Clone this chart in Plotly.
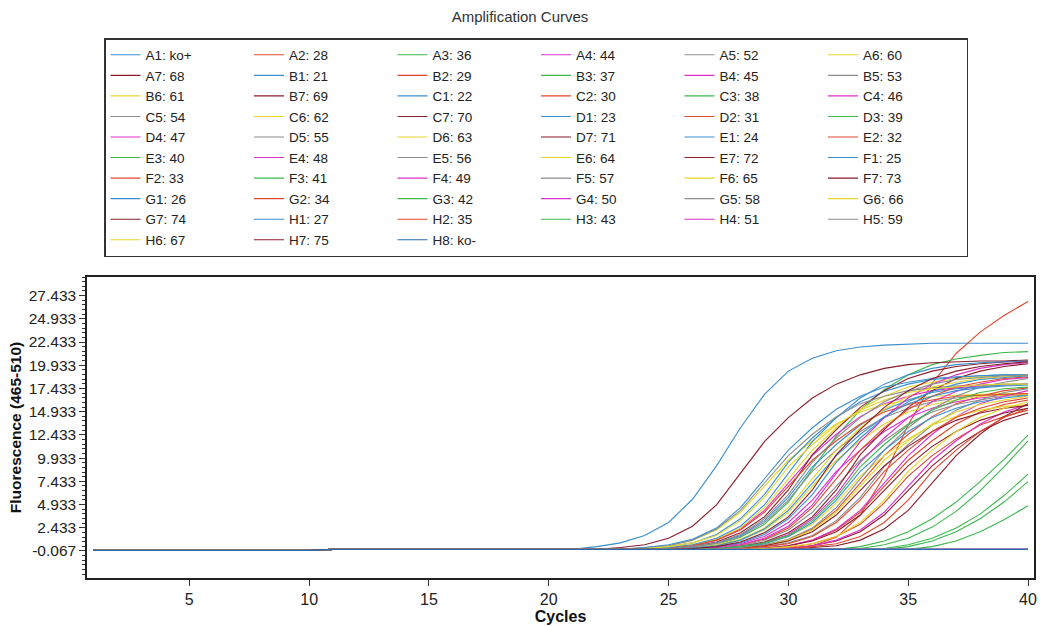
import plotly.graph_objects as go

# ---------------- data ----------------
cycles = list(range(1, 41))

A1 = [0,0,0,0,0,0,0,0,0,0, 0.1,0.1,0.1,0.1,0.1,0.1,0.1,0.1,0.1,0.1,0.1,
      0.4,0.8,1.6,3.0,5.5,9.1,13.2,16.8,19.3,20.7,21.5,21.9,22.1,22.2,22.3,22.3,22.3,22.3,22.3]
A2 = [0,0,0,0,0,0,0,0,0,0, 0.1,0.1,0.1,0.1,0.1,0.1,0.1,0.1,0.1,0.1,0.1,0.1,0.1,0.1,0.1,0.1,0.1,0.1,0.1,
      0.2,0.5,1.4,3.8,8.0,13.5,18.0,21.2,23.5,25.3,26.8]
A3 = [0,0,0,0,0,0,0,0,0,0, 0.1,0.1,0.1,0.1,0.1,0.1,0.1,0.1,0.1,0.1,0.1,0.1,0.1,0.1,0.1,
      0.3,0.6,1.4,2.8,5.2,8.7,12.3,15.1,17.3,18.9,20.0,20.6,21.0,21.3,21.4]
A4 = [0,0,0,0,0,0,0,0,0,0, 0.1,0.1,0.1,0.1,0.1,0.1,0.1,0.1,0.1,0.1,0.1,0.1,0.1,0.1,
      0.3,0.5,1.1,2.3,4.3,7.3,10.2,12.5,14.4,15.8,16.6,17.2,17.5,17.7,17.8,17.9]
A5 = [0,0,0,0,0,0,0,0,0,0, 0.1,0.1,0.1,0.1,0.1,0.1,0.1,0.1,0.1,0.1,0.1,0.1,0.1,0.1,
      0.2,0.4,0.7,1.5,3.0,5.4,8.5,10.8,12.8,14.3,15.3,16.0,16.4,16.7,16.8,16.9]
A6 = [0,0,0,0,0,0,0,0,0,0, 0.1,0.1,0.1,0.1,0.1,0.1,0.1,0.1,0.1,0.1,0.1,0.1,0.1,
      0.2,0.5,1.1,2.2,4.1,6.9,9.7,11.8,13.6,14.9,15.7,16.2,16.6,16.7,16.8,16.9,16.9]
A7 = [0,0,0,0,0,0,0,0,0,0, 0.1,0.1,0.1,0.1,0.1,0.1,0.1,0.1,0.1,0.1,0.1,
      0.1,0.3,0.6,1.3,2.6,4.9,8.3,11.7,14.3,16.4,17.9,18.9,19.6,20.0,20.2,20.3,20.4,20.4,20.5]

B1 = [0,0,0,0,0,0,0,0,0,0, 0.1,0.1,0.1,0.1,0.1,0.1,0.1,0.1,0.1,0.1,0.1,0.1,0.1,
      0.2,0.4,0.8,1.7,3.4,6.0,9.5,12.1,14.3,16.0,17.1,17.9,18.4,18.6,18.8,18.9,18.9]
B2 = [0,0,0,0,0,0,0,0,0,0, 0.1,0.1,0.1,0.1,0.1,0.1,0.1,0.1,0.1,0.1,0.1,0.1,0.1,0.1,0.1,0.1,0.1,
      0.3,0.5,1.1,2.3,4.3,7.3,10.2,12.5,14.4,15.8,16.6,17.2,17.5]
B3 = [0,0,0,0,0,0,0,0,0,0, 0.1,0.1,0.1,0.1,0.1,0.1,0.1,0.1,0.1,0.1,0.1,0.1,0.1,0.1,0.1,0.1,0.1,0.1,0.1,0.1,0.1,0.1,
      0.4,1.0,2.0,3.4,5.2,7.4,9.8,12.4]
B4 = [0,0,0,0,0,0,0,0,0,0, 0.1,0.1,0.1,0.1,0.1,0.1,0.1,0.1,0.1,0.1,0.1,0.1,0.1,0.1,0.1,
      0.2,0.4,0.7,1.5,3.0,5.4,8.5,10.8,12.8,14.3,15.3,16.0,16.4,16.7,16.8]
B5 = [0,0,0,0,0,0,0,0,0,0, 0.1,0.1,0.1,0.1,0.1,0.1,0.1,0.1,0.1,0.1,0.1,0.1,0.1,0.1,0.1,0.1,
      0.2,0.5,1.1,2.2,4.1,6.9,9.7,11.8,13.6,14.9,15.7,16.2,16.6,16.7]
B6 = [0,0,0,0,0,0,0,0,0,0, 0.1,0.1,0.1,0.1,0.1,0.1,0.1,0.1,0.1,0.1,0.1,0.1,0.1,0.1,
      0.3,0.6,1.2,2.4,4.6,7.7,10.8,13.2,15.2,16.6,17.6,18.1,18.5,18.7,18.8,18.9]
B7 = [0,0,0,0,0,0,0,0,0,0, 0.1,0.1,0.1,0.1,0.1,0.1,0.1,0.1,0.1,0.1,0.1,0.1,0.1,0.1,
      0.2,0.4,0.9,1.9,3.6,6.5,10.3,13.0,15.4,17.2,18.5,19.3,19.8,20.1,20.3,20.4]

C1 = [0,0,0,0,0,0,0,0,0,0, 0.1,0.1,0.1,0.1,0.1,0.1,0.1,0.1,0.1,0.1,0.1,0.1,0.1,0.1,
      0.3,0.6,1.3,2.6,4.9,8.3,11.7,14.3,16.4,17.9,18.9,19.6,20.0,20.2,20.3,20.4]
C2 = [0,0,0,0,0,0,0,0,0,0, 0.1,0.1,0.1,0.1,0.1,0.1,0.1,0.1,0.1,0.1,0.1,0.1,0.1,0.1,0.1,0.1,0.1,0.1,
      0.2,0.5,1.1,2.2,4.1,6.9,9.7,11.8,13.6,14.9,15.7,16.2]
C3 = [0,0,0,0,0,0,0,0,0,0, 0.1,0.1,0.1,0.1,0.1,0.1,0.1,0.1,0.1,0.1,0.1,0.1,0.1,0.1,0.1,0.1,0.1,0.1,0.1,0.1,0.1,0.1,
      0.2,0.6,1.3,2.5,4.2,6.4,9.0,11.8]
C4 = [0,0,0,0,0,0,0,0,0,0, 0.1,0.1,0.1,0.1,0.1,0.1,0.1,0.1,0.1,0.1,0.1,0.1,0.1,0.1,0.1,0.1,
      0.2,0.4,0.8,1.7,3.4,6.0,9.5,12.1,14.3,16.0,17.1,17.9,18.4,18.6]
C5 = [0,0,0,0,0,0,0,0,0,0, 0.1,0.1,0.1,0.1,0.1,0.1,0.1,0.1,0.1,0.1,0.1,0.1,0.1,
      0.3,0.5,1.1,2.3,4.3,7.3,10.2,12.5,14.4,15.8,16.6,17.2,17.5,17.7,17.8,17.9,17.9]
C6 = [0,0,0,0,0,0,0,0,0,0, 0.1,0.1,0.1,0.1,0.1,0.1,0.1,0.1,0.1,0.1,0.1,0.1,0.1,0.1,0.1,
      0.2,0.5,1.1,2.2,4.1,6.9,9.7,11.8,13.6,14.9,15.7,16.2,16.6,16.7,16.8]
C7 = [0,0,0,0,0,0,0,0,0,0, 0.1,0.1,0.1,0.1,0.1,0.1,0.1,0.1,0.1,0.1,0.1,0.1,0.1,0.1,0.1,0.1,
      0.2,0.4,0.9,1.9,3.6,6.5,10.3,13.0,15.4,17.2,18.5,19.3,19.8,20.1]

D1 = [0,0,0,0,0,0,0,0,0,0, 0.1,0.1,0.1,0.1,0.1,0.1,0.1,0.1,0.1,0.1,0.1,0.1,0.1,0.1,
      0.2,0.4,0.8,1.6,3.2,5.7,9.0,11.4,13.5,15.1,16.2,17.0,17.4,17.6,17.8,17.9]
D2 = [0,0,0,0,0,0,0,0,0,0, 0.1,0.1,0.1,0.1,0.1,0.1,0.1,0.1,0.1,0.1,0.1,0.1,0.1,0.1,0.1,0.1,
      0.3,0.6,1.2,2.4,4.6,7.7,10.8,13.2,15.2,16.6,17.6,18.1,18.5,18.7]
D3 = [0,0,0,0,0,0,0,0,0,0, 0.1,0.1,0.1,0.1,0.1,0.1,0.1,0.1,0.1,0.1,0.1,0.1,0.1,0.1,0.1,0.1,0.1,0.1,0.1,0.1,0.1,0.1,0.1,
      0.2,0.6,1.3,2.4,3.9,5.9,8.2]
D4 = [0,0,0,0,0,0,0,0,0,0, 0.1,0.1,0.1,0.1,0.1,0.1,0.1,0.1,0.1,0.1,0.1,0.1,0.1,0.1,0.1,0.1,0.1,0.1,
      0.3,0.5,1.1,2.3,4.3,7.3,10.2,12.5,14.4,15.8,16.6,17.2]
D5 = [0,0,0,0,0,0,0,0,0,0, 0.1,0.1,0.1,0.1,0.1,0.1,0.1,0.1,0.1,0.1,0.1,0.1,0.1,0.1,0.1,0.1,0.1,
      0.2,0.4,0.8,1.6,3.2,5.7,9.0,11.4,13.5,15.1,16.2,17.0,17.4]
D6 = [0,0,0,0,0,0,0,0,0,0, 0.1,0.1,0.1,0.1,0.1,0.1,0.1,0.1,0.1,0.1,0.1,0.1,0.1,0.1,0.1,0.1,
      0.2,0.3,0.7,1.5,2.8,5.1,8.0,10.2,12.0,13.5,14.4,15.1,15.5,15.7]
D7 = [0,0,0,0,0,0,0,0,0,0, 0.1,0.1,0.1,0.1,0.1,0.1,0.1,0.1,0.1,0.1,0.1,0.1,0.1,0.1,0.1,0.1,0.1,0.1,0.1,
      0.2,0.5,1.0,2.0,3.8,6.5,9.1,11.2,12.8,14.0,14.8]

E1 = [0,0,0,0,0,0,0,0,0,0, 0.1,0.1,0.1,0.1,0.1,0.1,0.1,0.1,0.1,0.1,0.1,0.1,0.1,
      0.3,0.6,1.2,2.4,4.6,7.7,10.8,13.2,15.2,16.6,17.6,18.1,18.5,18.7,18.8,18.9,18.9]
E2 = [0,0,0,0,0,0,0,0,0,0, 0.1,0.1,0.1,0.1,0.1,0.1,0.1,0.1,0.1,0.1,0.1,0.1,0.1,0.1,0.1,0.1,0.1,0.1,
      0.2,0.3,0.7,1.5,2.8,5.1,8.0,10.2,12.0,13.5,14.4,15.1]
E3 = [0,0,0,0,0,0,0,0,0,0, 0.1,0.1,0.1,0.1,0.1,0.1,0.1,0.1,0.1,0.1,0.1,0.1,0.1,0.1,0.1,0.1,0.1,0.1,0.1,0.1,0.1,0.1,0.1,0.1,
      0.4,1.0,2.0,3.4,5.2,7.4]
E4 = [0,0,0,0,0,0,0,0,0,0, 0.1,0.1,0.1,0.1,0.1,0.1,0.1,0.1,0.1,0.1,0.1,0.1,0.1,0.1,0.1,0.1,0.1,0.1,0.1,
      0.2,0.5,1.1,2.2,4.1,6.9,9.7,11.8,13.6,14.9,15.7]
E5 = [0,0,0,0,0,0,0,0,0,0, 0.1,0.1,0.1,0.1,0.1,0.1,0.1,0.1,0.1,0.1,0.1,0.1,0.1,0.1,0.1,0.1,0.1,0.1,0.1,0.1,
      0.1,0.1,0.1,0.1,0.1,0.1,0.1,0.1,0.1,0.1]
E6 = [0,0,0,0,0,0,0,0,0,0, 0.1,0.1,0.1,0.1,0.1,0.1,0.1,0.1,0.1,0.1,0.1,0.1,0.1,0.1,0.1,
      0.3,0.6,1.2,2.4,4.6,7.7,10.8,13.2,15.2,16.6,17.6,18.1,18.5,18.7,18.8]
E7 = [0,0,0,0,0,0,0,0,0,0, 0.1,0.1,0.1,0.1,0.1,0.1,0.1,0.1,0.1,0.1,0.1,0.1,0.1,0.1,0.1,0.1,0.1,0.1,0.1,0.1,
      0.3,0.5,1.1,2.3,4.3,7.3,10.2,12.5,14.4,15.8]

F1 = [0,0,0,0,0,0,0,0,0,0, 0.1,0.1,0.1,0.1,0.1,0.1,0.1,0.1,0.1,0.1,0.1,0.1,0.1,0.1,0.1,
      0.2,0.4,0.8,1.7,3.4,6.0,9.5,12.1,14.3,16.0,17.1,17.9,18.4,18.6,18.8]
F2 = [0,0,0,0,0,0,0,0,0,0, 0.1,0.1,0.1,0.1,0.1,0.1,0.1,0.1,0.1,0.1,0.1,0.1,0.1,0.1,
      0.2,0.5,1.1,2.2,4.1,6.9,9.7,11.8,13.6,14.9,15.7,16.2,16.6,16.7,16.8,16.9]
F3 = [0,0,0,0,0,0,0,0,0,0, 0.1,0.1,0.1,0.1,0.1,0.1,0.1,0.1,0.1,0.1,0.1,0.1,0.1,0.1,0.1,0.1,0.1,0.1,0.1,0.1,0.1,0.1,0.1,0.1,0.1,
      0.4,1.0,2.0,3.3,4.8]
F4 = [0,0,0,0,0,0,0,0,0,0, 0.1,0.1,0.1,0.1,0.1,0.1,0.1,0.1,0.1,0.1,0.1,0.1,0.1,0.1,0.1,0.1,
      0.3,0.6,1.3,2.6,4.9,8.3,11.7,14.3,16.4,17.9,18.9,19.6,20.0,20.2]
F5 = [0,0,0,0,0,0,0,0,0,0, 0.1,0.1,0.1,0.1,0.1,0.1,0.1,0.1,0.1,0.1,0.1,0.1,0.1,0.1,0.1,0.1,0.1,
      0.3,0.6,1.2,2.4,4.6,7.7,10.8,13.2,15.2,16.6,17.6,18.1,18.5]
F6 = [0,0,0,0,0,0,0,0,0,0, 0.1,0.1,0.1,0.1,0.1,0.1,0.1,0.1,0.1,0.1,0.1,0.1,0.1,0.1,0.1,0.1,0.1,
      0.2,0.5,1.1,2.2,4.1,6.9,9.7,11.8,13.6,14.9,15.7,16.2,16.6]
F7 = [0,0,0,0,0,0,0,0,0,0, 0.1,0.1,0.1,0.1,0.1,0.1,0.1,0.1,0.1,0.1,0.1,0.1,0.1,0.1,0.1,0.1,0.1,
      0.2,0.5,1.0,2.0,3.8,6.5,9.1,11.2,12.8,14.0,14.8,15.3,15.6]

G1 = [0,0,0,0,0,0,0,0,0,0, 0.1,0.1,0.1,0.1,0.1,0.1,0.1,0.1,0.1,0.1,0.1,0.1,0.1,0.1,0.1,
      0.3,0.5,1.1,2.3,4.3,7.3,10.2,12.5,14.4,15.8,16.6,17.2,17.5,17.7,17.8]
G2 = [0,0,0,0,0,0,0,0,0,0, 0.1,0.1,0.1,0.1,0.1,0.1,0.1,0.1,0.1,0.1,0.1,0.1,0.1,0.1,0.1,0.1,0.1,0.1,0.1,
      0.2,0.4,0.7,1.5,3.0,5.4,8.5,10.8,12.8,14.3,15.3]
G3 = [0,0,0,0,0,0,0,0,0,0, 0.1,0.1,0.1,0.1,0.1,0.1,0.1,0.1,0.1,0.1,0.1,0.1,0.1,0.1,0.1,0.1,0.1,0.1,0.1,0.1,
      0.1,0.1,0.1,0.1,0.1,0.1,0.1,0.1,0.1,0.1]
G4 = [0,0,0,0,0,0,0,0,0,0, 0.1,0.1,0.1,0.1,0.1,0.1,0.1,0.1,0.1,0.1,0.1,0.1,0.1,0.1,0.1,0.1,0.1,0.1,0.1,0.1,
      0.1,0.1,0.1,0.1,0.1,0.1,0.1,0.1,0.1,0.1]
G5 = [0,0,0,0,0,0,0,0,0,0, 0.1,0.1,0.1,0.1,0.1,0.1,0.1,0.1,0.1,0.1,0.1,0.1,0.1,0.1,0.1,0.1,0.1,0.1,0.1,0.1,
      0.1,0.1,0.1,0.1,0.1,0.1,0.1,0.1,0.1,0.1]
G6 = [0,0,0,0,0,0,0,0,0,0, 0.1,0.1,0.1,0.1,0.1,0.1,0.1,0.1,0.1,0.1,0.1,0.1,0.1,
      0.2,0.4,0.8,1.6,3.2,5.7,9.0,11.4,13.5,15.1,16.2,17.0,17.4,17.6,17.8,17.9,17.9]
G7 = [0,0,0,0,0,0,0,0,0,0, 0.1,0.1,0.1,0.1,0.1,0.1,0.1,0.1,0.1,0.1,0.1,0.1,0.1,0.1,0.1,0.1,0.1,0.1,
      0.2,0.5,1.0,2.0,3.8,6.5,9.1,11.2,12.8,14.0,14.8,15.3]

H1 = [0,0,0,0,0,0,0,0,0,0, 0.1,0.1,0.1,0.1,0.1,0.1,0.1,0.1,0.1,0.1,0.1,0.1,0.1,0.1,0.1,0.1,
      0.2,0.4,0.7,1.5,3.0,5.4,8.5,10.8,12.8,14.3,15.3,16.0,16.4,16.7]
H2 = [0,0,0,0,0,0,0,0,0,0, 0.1,0.1,0.1,0.1,0.1,0.1,0.1,0.1,0.1,0.1,0.1,0.1,0.1,0.1,0.1,0.1,0.1,
      0.2,0.4,0.7,1.5,3.0,5.4,8.5,10.8,12.8,14.3,15.3,16.0,16.4]
H3 = [0,0,0,0,0,0,0,0,0,0, 0.1,0.1,0.1,0.1,0.1,0.1,0.1,0.1,0.1,0.1,0.1,0.1,0.1,0.1,0.1,0.1,
      0.2,0.4,0.8,1.6,3.2,5.7,9.0,11.4,13.5,15.1,16.2,17.0,17.4,17.6]
H4 = [0,0,0,0,0,0,0,0,0,0, 0.1,0.1,0.1,0.1,0.1,0.1,0.1,0.1,0.1,0.1,0.1,0.1,0.1,0.1,0.1,0.1,0.1,0.1,0.1,0.1,
      0.1,0.1,0.1,0.1,0.1,0.1,0.1,0.1,0.1,0.1]
H5 = [0,0,0,0,0,0,0,0,0,0, 0.1,0.1,0.1,0.1,0.1,0.1,0.1,0.1,0.1,0.1,0.1,0.1,0.1,0.1,
      0.2,0.4,0.8,1.7,3.4,6.0,9.5,12.1,14.3,16.0,17.1,17.9,18.4,18.6,18.8,18.9]
H6 = [0,0,0,0,0,0,0,0,0,0, 0.1,0.1,0.1,0.1,0.1,0.1,0.1,0.1,0.1,0.1,0.1,0.1,0.1,0.1,0.1,0.1,0.1,0.1,
      0.2,0.4,0.7,1.5,3.0,5.4,8.5,10.8,12.8,14.3,15.3,16.0]
H7 = [0,0,0,0,0,0,0,0,0,0, 0.1,0.1,0.1,0.1,0.1,0.1,0.1,0.1,0.1,0.1,0.1,0.1,0.1,0.1,0.1,
      0.2,0.4,0.9,1.9,3.6,6.5,10.3,13.0,15.4,17.2,18.5,19.3,19.8,20.1,20.3]
H8 = [0,0,0,0,0,0,0,0,0,0, 0.1,0.1,0.1,0.1,0.1,0.1,0.1,0.1,0.1,0.1,0.1,0.1,0.1,0.1,0.1,0.1,0.1,0.1,0.1,0.1,
      0.1,0.1,0.1,0.1,0.1,0.1,0.1,0.1,0.1,0.1]

series_values = [A1, A2, A3, A4, A5, A6, A7,
                 B1, B2, B3, B4, B5, B6, B7,
                 C1, C2, C3, C4, C5, C6, C7,
                 D1, D2, D3, D4, D5, D6, D7,
                 E1, E2, E3, E4, E5, E6, E7,
                 F1, F2, F3, F4, F5, F6, F7,
                 G1, G2, G3, G4, G5, G6, G7,
                 H1, H2, H3, H4, H5, H6, H7, H8]

series_labels = ["A1: ko+", "A2: 28", "A3: 36", "A4: 44", "A5: 52", "A6: 60", "A7: 68",
                 "B1: 21", "B2: 29", "B3: 37", "B4: 45", "B5: 53", "B6: 61", "B7: 69",
                 "C1: 22", "C2: 30", "C3: 38", "C4: 46", "C5: 54", "C6: 62", "C7: 70",
                 "D1: 23", "D2: 31", "D3: 39", "D4: 47", "D5: 55", "D6: 63", "D7: 71",
                 "E1: 24", "E2: 32", "E3: 40", "E4: 48", "E5: 56", "E6: 64", "E7: 72",
                 "F1: 25", "F2: 33", "F3: 41", "F4: 49", "F5: 57", "F6: 65", "F7: 73",
                 "G1: 26", "G2: 34", "G3: 42", "G4: 50", "G5: 58", "G6: 66", "G7: 74",
                 "H1: 27", "H2: 35", "H3: 43", "H4: 51", "H5: 59", "H6: 67", "H7: 75", "H8: ko-"]

x_tick_vals = [5, 10, 15, 20, 25, 30, 35, 40]
y_tick_vals = [-0.067, 2.433, 4.933, 7.433, 9.933, 12.433, 14.933, 17.433, 19.933, 22.433, 24.933, 27.433]
y_tick_text = ["-0.067", "2.433", "4.933", "7.433", "9.933", "12.433", "14.933", "17.433",
               "19.933", "22.433", "24.933", "27.433"]

# ---------------- styling ----------------
column_colors = ["#3a8fd0", "#e0482c", "#3cb84c", "#dc30cc", "#8c8c8c", "#e6d62a", "#8a1c2c"]
ko_minus_color = "#2a6cb0"

fig = go.Figure()
for i, (name, vals) in enumerate(zip(series_labels, series_values)):
    if name.startswith("H8"):
        col = ko_minus_color
    else:
        col = column_colors[i % 7]
    fig.add_trace(go.Scatter(x=cycles, y=vals, mode="lines", name=name,
                             line=dict(color=col, width=1.1)))

FONT = "Liberation Sans, Arial, sans-serif"
fig.update_layout(
    width=1040, height=626,
    margin=dict(l=87, r=6, t=277, b=48, autoexpand=False),
    paper_bgcolor="white", plot_bgcolor="white",
    font=dict(family=FONT, color="#222"),
    title=dict(text="Amplification Curves", x=0.5, xref="container", xanchor="center",
               y=1 - 17 / 626, yref="container", yanchor="middle",
               font=dict(size=15, color="#333", family=FONT)),
    showlegend=True,
    legend=dict(orientation="h", x=(104 - 87) / 947, xanchor="left",
                y=(578 - 38) / 301, yanchor="top",
                entrywidth=98.5, entrywidthmode="pixels",
                font=dict(size=13.5, color="#222", family=FONT),
                bordercolor="#333", borderwidth=1.5, bgcolor="white",
                traceorder="normal"),
    xaxis=dict(range=[0.73, 40.25], tickmode="array", tickvals=x_tick_vals,
               ticks="outside", ticklen=6, tickwidth=1, tickcolor="#333",
               showline=True, linecolor="#222", linewidth=1.5, mirror=True,
               showgrid=False, zeroline=False,
               tickfont=dict(size=16, color="#222", family=FONT),
               title=dict(text="Cycles", standoff=2,
                          font=dict(size=16, color="#111", family=FONT, weight="bold"))),
    yaxis=dict(range=[-2.98, 29.44], tickmode="array", tickvals=y_tick_vals, ticktext=y_tick_text,
               ticks="outside", ticklen=6, tickwidth=1, tickcolor="#333",
               minor=dict(tickmode="linear", tick0=-0.067, dtick=0.5, ticks="outside",
                          ticklen=3, tickcolor="#333", showgrid=False),
               showline=True, linecolor="#222", linewidth=1.5, mirror=True,
               showgrid=False, zeroline=False,
               tickfont=dict(size=15.5, color="#222", family=FONT),
               title=dict(text="Fluorescence (465-510)", standoff=3,
                          font=dict(size=15.5, color="#111", family=FONT, weight="bold"))),
)

fig.write_html("out.html", config={"displayModeBar": False},
               post_script="document.body.style.margin='0';")
